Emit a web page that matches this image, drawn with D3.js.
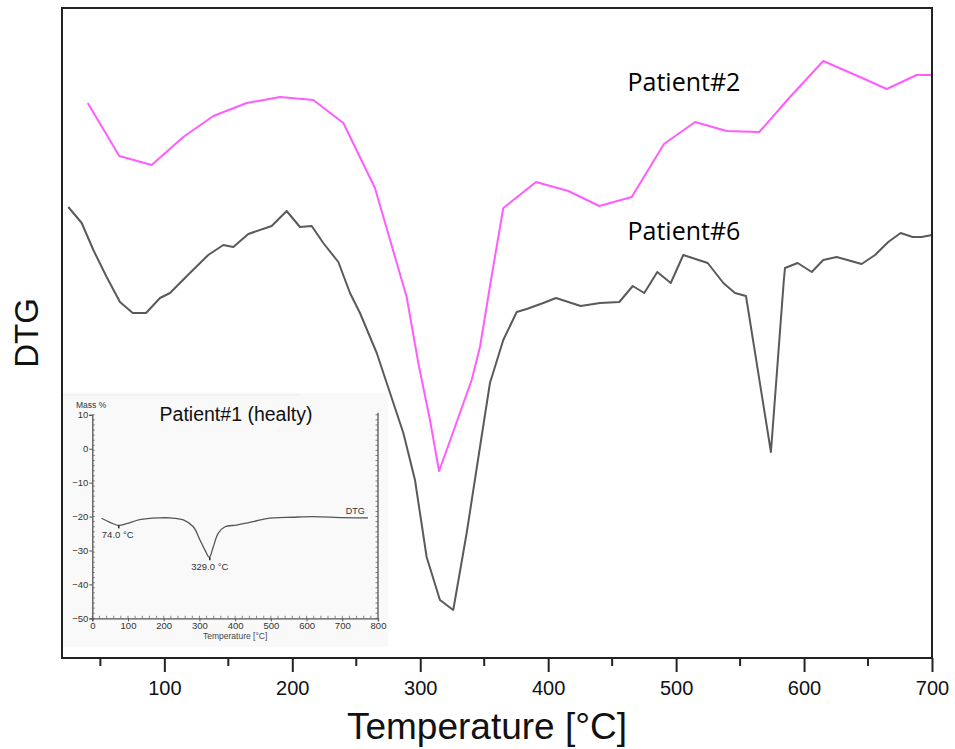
<!DOCTYPE html>
<html>
<head>
<meta charset="utf-8">
<script src="https://cdn.jsdelivr.net/npm/d3@7"></script>
<style>
  body { margin: 0; background: #fff; }
  svg text { font-family: "Liberation Sans", Arial, sans-serif; }
  svg text.series-label { font-family: "Open Sans", "Noto Sans", sans-serif; }
</style>
</head>
<body>
<svg id="chart" width="955" height="749"></svg>
<script>
// ---- Main DTG traces (temperature in °C, DTG in arbitrary units) ----
const p2Temp = [40.1, 64.8, 90.1, 114.8, 138.3, 164.4, 190.4, 216.4, 239.9, 264.6, 289.4, 298.5, 307.6, 314.7,
                320.7, 340.2, 346.7, 355.3, 364.9, 390.5, 415.7, 440.0, 465.3, 490.5, 514.8, 539.5, 565.0,
                589.0, 615.0, 643.7, 664.6, 688.0, 700.0];
const p2DTG  = [55.5, 50.2, 49.3, 52.1, 54.2, 55.5, 56.1, 55.8, 53.5, 47.0, 36.1, 29.5, 23.8, 18.7,
                20.8, 27.8, 31.1, 37.8, 45.0, 47.6, 46.7, 45.2, 46.1, 51.4, 53.6, 52.7, 52.6,
                56.1, 59.7, 58.1, 56.9, 58.3, 58.3];

const p6Temp = [24.9, 35.4, 44.5, 54.9, 65.3, 75.3, 85.7, 96.6, 104.4, 120.0, 134.3, 146.1, 153.9, 165.6,
                183.9, 195.6, 206.0, 215.2, 224.2, 236.0, 245.1, 252.9, 266.0, 276.4, 286.8, 295.9,
                305.0, 315.4, 325.8, 336.3, 346.7, 354.5, 364.9, 375.4, 383.2, 396.2, 406.1, 425.4,
                440.5, 455.6, 466.1, 475.1, 485.3, 495.8, 505.6, 524.7, 536.9, 546.0, 554.6, 574.1,
                584.2, 585.1, 595.0, 606.0, 615.0, 625.5, 645.0, 655.5, 665.8, 675.5, 684.9, 691.9, 700.0];
const p6DTG  = [45.1, 43.5, 40.8, 38.1, 35.6, 34.5, 34.5, 36.0, 36.5, 38.5, 40.3, 41.3, 41.1, 42.4,
                43.2, 44.7, 43.1, 43.2, 41.5, 39.6, 36.5, 34.5, 30.5, 26.5, 22.5, 17.8,
                10.1, 5.8, 4.8, 12.5, 21.1, 27.5, 31.8, 34.6, 34.9, 35.5, 36.0, 35.2,
                35.5, 35.6, 37.2, 36.5, 38.6, 37.5, 40.3, 39.5, 37.5, 36.5, 36.2, 20.6,
                37.8, 39.0, 39.5, 38.6, 39.8, 40.1, 39.4, 40.3, 41.6, 42.5, 42.1, 42.1, 42.3];

const seriesNames = ["Patient#2", "Patient#6"];
const labelTemp = [462, 462];
const labelDTG  = [56.7, 41.8];

const xTicks = [100, 200, 300, 400, 500, 600, 700];
const xMinorTicks = [50, 150, 250, 350, 450, 550, 650];

// ---- Inset: healthy reference DTG (temperature °C, mass %) ----
const p1Temp = [26, 49.5, 72.7, 96, 133, 189, 217.6, 254.8, 282.8, 301.5, 315.5, 327.6, 338.8, 352.8,
                371.6, 404.3, 450.8, 488, 562, 618, 702, 772];
const p1Mass = [-20.5, -21.7, -22.6, -22.1, -20.9, -20.4, -20.4, -21.0, -23.0, -26.9, -29.9, -32.0, -28.9, -24.9,
                -23.0, -22.5, -21.5, -20.6, -20.2, -20.0, -20.3, -20.4];
const insetXTicks = [0, 100, 200, 300, 400, 500, 600, 700, 800];
const insetYTicks = [10, 0, -10, -20, -30, -40, -50];
const peakTemps = [74.0, 329.0];
const peakMass  = [-22.6, -32.0];

const svg = d3.select("#chart");

// frame of the main plot
const M = { left: 62, right: 932, top: 8, bottom: 658 };
const x = d3.scaleLinear().domain([20, 700]).range([M.left, M.right]);
const y = d3.scaleLinear().domain([0, 65]).range([M.bottom, M.top]);

// ---- Inset panel ----
const inset = svg.append("g");
inset.append("rect").attr("x", 63).attr("y", 393).attr("width", 325).attr("height", 254)
  .attr("fill", "#f9f9f9");
inset.append("line").attr("x1", 63).attr("x2", 300).attr("y1", 395).attr("y2", 395)
  .attr("stroke", "#ececec").attr("stroke-width", 1);

const ix = d3.scaleLinear().domain([0, 800]).range([92.3, 378]);
const iy = d3.scaleLinear().domain([-50, 10]).range([618.3, 414.8]);

// inset axes
const iyAxisL = d3.axisLeft(iy).tickValues(insetYTicks).tickSize(3).tickFormat(d3.format("d"));
const giyL = inset.append("g").attr("transform", `translate(${ix(0)},0)`).call(iyAxisL);
giyL.selectAll("text").attr("font-size", 9.5).attr("fill", "#333").attr("dx", 2);
giyL.select(".domain").attr("stroke", "#555").attr("stroke-width", 1.3);
giyL.selectAll(".tick line").attr("stroke", "#555");

const iyMinor = d3.range(-50, 10.01, 1.5);
inset.append("g").selectAll("line").data(iyMinor).join("line")
  .attr("x1", ix(0)).attr("x2", ix(0) + 2.5).attr("y1", d => iy(d)).attr("y2", d => iy(d))
  .attr("stroke", "#666").attr("stroke-width", 0.8);
inset.append("g").selectAll("line").data(iyMinor).join("line")
  .attr("x1", ix(800) - 2.5).attr("x2", ix(800)).attr("y1", d => iy(d)).attr("y2", d => iy(d))
  .attr("stroke", "#666").attr("stroke-width", 0.8);
inset.append("line").attr("x1", ix(800)).attr("x2", ix(800)).attr("y1", iy(10) - 2).attr("y2", iy(-50))
  .attr("stroke", "#555").attr("stroke-width", 1.3);

const ixAxis = d3.axisBottom(ix).tickValues(insetXTicks).tickSize(3).tickFormat(d3.format("d"));
const gix = inset.append("g").attr("transform", `translate(0,${iy(-50)})`).call(ixAxis);
gix.selectAll("text").attr("font-size", 9.5).attr("fill", "#333").attr("dy", "0.5em");
gix.select(".domain").attr("stroke", "#555").attr("stroke-width", 1.3);
gix.selectAll(".tick line").attr("stroke", "#555");
inset.append("g").selectAll("line").data(d3.range(0, 800, 20)).join("line")
  .attr("x1", d => ix(d)).attr("x2", d => ix(d)).attr("y1", iy(-50)).attr("y2", iy(-50) - 2.5)
  .attr("stroke", "#666").attr("stroke-width", 0.8);

inset.append("text").attr("x", 76).attr("y", 407.5).attr("font-size", 8.5).attr("fill", "#333").text("Mass %");
inset.append("text").attr("x", (ix(0) + ix(800)) / 2).attr("y", 639).attr("text-anchor", "middle")
  .attr("font-size", 8.5).attr("fill", "#444").text("Temperature [°C]");
inset.append("text").attr("x", 236).attr("y", 421).attr("text-anchor", "middle")
  .attr("font-size", 19.5).attr("fill", "#111").text("Patient#1 (healty)");

const p1 = p1Temp.map((t, i) => [t, p1Mass[i]]);
inset.append("path").datum(p1)
  .attr("d", d3.line().x(d => ix(d[0])).y(d => iy(d[1])).curve(d3.curveCatmullRom.alpha(0.5)))
  .attr("fill", "none").attr("stroke", "#555").attr("stroke-width", 1.3);

inset.append("g").selectAll("line").data(peakTemps).join("line")
  .attr("x1", d => ix(d)).attr("x2", d => ix(d))
  .attr("y1", (d, i) => iy(peakMass[i])).attr("y2", (d, i) => iy(peakMass[i]) + 3)
  .attr("stroke", "#222").attr("stroke-width", 1.5);
inset.append("g").selectAll("text").data(peakTemps).join("text")
  .attr("x", d => ix(d) - (d < 100 ? 1 : 0))
  .attr("y", (d, i) => iy(peakMass[i]) + 13)
  .attr("text-anchor", "middle").attr("font-size", 9.5).attr("fill", "#333")
  .text(d => d3.format(".1f")(d) + " °C");
inset.append("text").attr("x", ix(710)).attr("y", iy(-20) - 3).attr("font-size", 9)
  .attr("fill", "#333").text("DTG");

// ---- Main traces ----
const line = d3.line().x(d => x(d[0])).y(d => y(d[1]));
const p2 = p2Temp.map((t, i) => [t, p2DTG[i]]);
const p6 = p6Temp.map((t, i) => [t, p6DTG[i]]);

svg.append("path").datum(p6).attr("d", line)
  .attr("fill", "none").attr("stroke", "#5a5a5a").attr("stroke-width", 2).attr("stroke-linejoin", "round");
svg.append("path").datum(p2).attr("d", line)
  .attr("fill", "none").attr("stroke", "#ff5cff").attr("stroke-width", 2).attr("stroke-linejoin", "round");

svg.append("g").selectAll("text").data(seriesNames).join("text")
  .attr("class", "series-label")
  .attr("x", (d, i) => x(labelTemp[i])).attr("y", (d, i) => y(labelDTG[i]))
  .attr("font-size", 25).attr("fill", "#000").text(d => d);

// ---- Frame and bottom axis ----
svg.append("rect").attr("x", M.left).attr("y", M.top)
  .attr("width", M.right - M.left).attr("height", M.bottom - M.top)
  .attr("fill", "none").attr("stroke", "#222").attr("stroke-width", 2);

const xAxis = d3.axisBottom(x).tickValues(xTicks).tickSize(14).tickPadding(9).tickFormat(d3.format("d"));
const gx = svg.append("g").attr("transform", `translate(0,${M.bottom})`).call(xAxis);
gx.select(".domain").remove();
gx.selectAll(".tick line").attr("stroke", "#222").attr("stroke-width", 2);
gx.selectAll("text").attr("font-size", 20).attr("fill", "#111");
svg.append("g").selectAll("line").data(xMinorTicks).join("line")
  .attr("x1", d => x(d)).attr("x2", d => x(d)).attr("y1", M.bottom).attr("y2", M.bottom + 8)
  .attr("stroke", "#222").attr("stroke-width", 2);

svg.append("text").attr("x", 487).attr("y", 739).attr("text-anchor", "middle")
  .attr("font-size", 37).attr("fill", "#111").text("Temperature [°C]");
svg.append("text").attr("transform", "translate(38,333) rotate(-90)").attr("text-anchor", "middle")
  .attr("font-size", 33).attr("fill", "#111").text("DTG");
</script>
</body>
</html>
